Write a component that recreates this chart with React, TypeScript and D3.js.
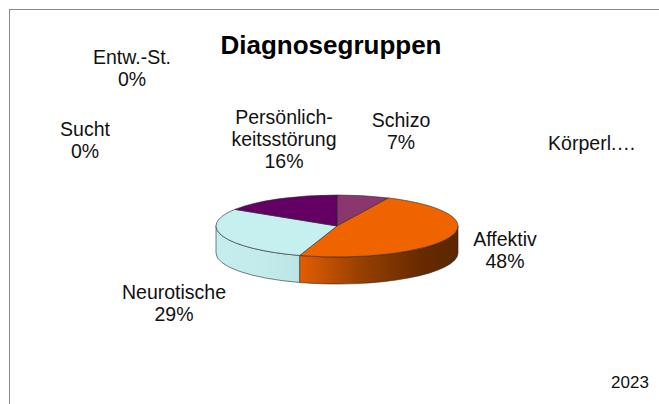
import React, { useRef, useEffect } from 'react';
import * as d3 from 'd3';

// Diagnosis groups, clockwise from 12 o'clock
const categories = ['Schizo', 'Affektiv', 'Körperl.…', 'Neurotische', 'Sucht', 'Entw.-St.', 'Persönlichkeitsstörung'];
const labelLines = [['Schizo'], ['Affektiv'], ['Körperl.…'], ['Neurotische'], ['Sucht'], ['Entw.-St.'], ['Persönlich-', 'keitsstörung']];
const showValue = [true, true, false, true, true, true, true]; // Körperl. label is cut off
const values = [7, 48, 0, 29, 0, 0, 16];
const colors = ['#8c3670', '#f06400', '#9999ff', '#c6efef', '#ffff99', '#99ccff', '#640064'];
const title = 'Diagnosegruppen';
const year = '2023';

// label anchors (centre x, first baseline y), as placed by the original
const labelPos: [number, number][] = [
  [401, 127], [505, 245.5], [592, 150], [174, 298.5], [85, 136], [132, 63.5], [284, 124],
];

const App = () => {
  const ref = useRef<SVGSVGElement | null>(null);

  useEffect(() => {
    const width = 659;
    const height = 404;
    const cx = 337;
    const cy = 226;
    const rx = 121;
    const ry = 31;
    const depth = 27;
    const k = ry / rx;

    const svg = d3.select(ref.current);
    svg.selectAll('*').remove();
    svg.attr('width', width).attr('height', height);

    const total = d3.sum(values);
    const data = categories.map((c, i) => ({ c, v: values[i], i }));

    const pie = d3.pie<any>().value(d => d.v).sort(null);
    const arcs = pie(data);

    // side gradients (lit on the left, dark towards the right); local pie coords
    const defs = svg.append('defs');
    colors.forEach((col, i) => {
      const g = defs.append('linearGradient')
        .attr('id', `side${i}`)
        .attr('gradientUnits', 'userSpaceOnUse')
        .attr('x1', -rx).attr('x2', rx)
        .attr('y1', 0).attr('y2', 0);
      const c = d3.color(col)!;
      g.append('stop').attr('offset', 0).attr('stop-color', c.darker(0.02).formatHex());
      g.append('stop').attr('offset', 0.2).attr('stop-color', c.darker(0.05).formatHex());
      g.append('stop').attr('offset', 0.33).attr('stop-color', c.darker(0.12).formatHex());
      g.append('stop').attr('offset', 0.6).attr('stop-color', c.darker(1.3).formatHex());
      g.append('stop').attr('offset', 0.85).attr('stop-color', c.darker(2.4).formatHex());
      g.append('stop').attr('offset', 1).attr('stop-color', c.darker(2.7).formatHex());
    });

    // frame (only top and left edges are inside the picture)
    svg.append('rect')
      .attr('x', 9.5).attr('y', 9.5)
      .attr('width', 800).attr('height', 600)
      .attr('fill', 'none')
      .attr('stroke', '#8a8a8a')
      .attr('stroke-width', 1);

    const pieG = svg.append('g')
      .attr('transform', `translate(${cx},${cy}) scale(1,${k})`);

    // visible front sides
    const lo = Math.PI / 2;
    const hi = Math.PI * 1.5;
    arcs.forEach(a => {
      if (a.endAngle - a.startAngle <= 0) return;
      const a0 = Math.max(a.startAngle, lo);
      const a1 = Math.min(a.endAngle, hi);
      if (a1 <= a0) return;
      const d = depth / k;
      const p = d3.path();
      p.moveTo(rx * Math.sin(a0), -rx * Math.cos(a0));
      p.arc(0, 0, rx, a0 - Math.PI / 2, a1 - Math.PI / 2);
      p.lineTo(rx * Math.sin(a1), -rx * Math.cos(a1) + d);
      p.arc(0, d, rx, a1 - Math.PI / 2, a0 - Math.PI / 2, true);
      p.closePath();
      pieG.append('path')
        .attr('d', p.toString())
        .attr('fill', `url(#side${a.data.i})`)
        .attr('stroke', '#2a2a2a')
        .attr('stroke-width', 0.6)
        .attr('vector-effect', 'non-scaling-stroke');
    });

    // top faces
    const arc = d3.arc<any>().innerRadius(0).outerRadius(rx);
    pieG.selectAll('.top')
      .data(arcs.filter(a => a.endAngle > a.startAngle))
      .enter().append('path')
      .attr('class', 'top')
      .attr('d', arc)
      .attr('fill', d => colors[d.data.i])
      .attr('stroke', '#2a2a2a')
      .attr('stroke-width', 0.6)
      .attr('vector-effect', 'non-scaling-stroke');

    // title
    svg.append('text')
      .attr('x', 331).attr('y', 54)
      .attr('text-anchor', 'middle')
      .attr('font-family', 'Liberation Sans, Arial, sans-serif')
      .attr('font-weight', 'bold')
      .attr('font-size', 26)
      .text(title);

    // data labels
    const fmt = d3.format('.0%');
    data.forEach((d, i) => {
      const [lx, ly] = labelPos[i];
      const lines = showValue[i] ? [...labelLines[i], fmt(total ? d.v / total : 0)] : labelLines[i];
      const t = svg.append('text')
        .attr('text-anchor', 'middle')
        .attr('font-family', 'Liberation Sans, Arial, sans-serif')
        .attr('font-size', 19.5)
        .attr('fill', '#111');
      lines.forEach((s, j) => {
        t.append('tspan').attr('x', lx).attr('y', ly + j * 22).text(s);
      });
    });

    svg.append('text')
      .attr('x', 630).attr('y', 388)
      .attr('text-anchor', 'middle')
      .attr('font-family', 'Liberation Sans, Arial, sans-serif')
      .attr('font-size', 17)
      .attr('fill', '#111')
      .text(year);
  }, []);

  return (
    <svg ref={ref} style={{ position: 'absolute', left: 0, top: 0, background: '#fff' }} />
  );
};

export default App;
